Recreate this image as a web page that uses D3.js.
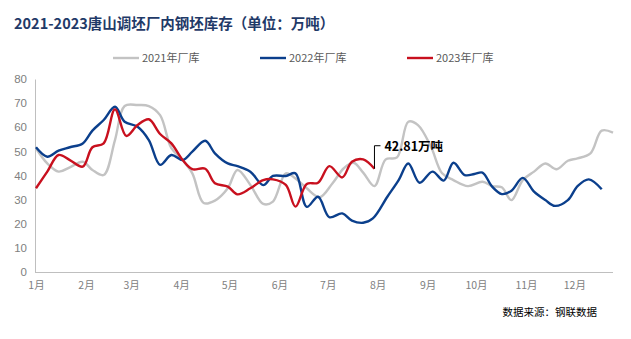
<!DOCTYPE html>
<html><head><meta charset="utf-8">
<script src="https://cdn.jsdelivr.net/npm/d3@7"></script>
<style>body{margin:0;background:#fff}svg{display:block}</style>
</head><body>
<svg id="c" width="631" height="339"></svg>
<script>
const monthLabels = ["1月","2月","3月","4月","5月","6月","7月","8月","9月","10月","11月","12月"];
const monthStartDays = [0,31,59,90,120,151,181,212,243,273,304,334];
const yTicks = [0,10,20,30,40,50,60,70,80];

const days2021 = [0,7,14,21,29,35,42,49,55,63,70,77,84,91,97,104,111,119,125,133,141,147,155,161,168,176,184,191,197,203,210,217,224,231,237,245,252,259,268,277,283,289,295,302,309,316,323,330,336,344,351,358];
const vals2021 = [51.3,45,41.6,43.4,45.7,42.3,40.2,54.7,68.8,69.2,68.8,65,51.3,46.4,40.9,28.6,29.6,34.7,42.3,36.1,28.2,29.2,40.9,38.8,34.7,31,36.8,43,45.3,41.2,35.6,46.7,47.5,62.3,60.9,52,40.9,38.1,35.6,37.4,35.6,35.1,29.8,38.1,41.6,45,42.6,46.1,47.1,49.2,58.6,57.8];

const days2022 = [0,7,14,21,29,35,42,49,55,63,70,77,84,91,97,105,111,119,125,133,141,147,155,161,168,175,182,190,196,203,209,218,225,231,238,246,253,259,266,272,277,283,289,295,302,309,316,322,330,336,343,351];
const vals2022 = [51.7,47.8,50.3,51.7,53.3,58.6,63,68.5,62.3,60.2,54.7,44.4,48.5,46.4,49.9,54.4,49.2,45,43.9,41.6,36,39.8,39.8,40.9,27,31.2,22.7,24.3,21.3,20.4,22.2,31.2,38.1,45,37,41.6,37.9,45.3,40.2,40.6,41.2,35.4,32.3,33.7,39,33.3,29.8,27.4,29.8,35.6,38.4,34.3];

const days2023 = [0,7,14,21,29,35,42,49,56,63,70,77,84,91,97,105,111,119,125,133,141,147,155,161,168,175,182,190,196,203,210];
const vals2023 = [34.7,41.6,48.5,46.4,43.7,51.7,53.3,67.4,56.4,60.9,63.3,57.2,53.3,46.4,42.6,42.8,36.8,35.4,32.2,34.7,38.1,38.4,36.1,27.1,36.5,37,43.9,39.2,45.7,46.7,42.81];

const seriesNames = ["2021年厂库","2022年厂库","2023年厂库"];
const colors = ["#c3c3c3","#0b3f8c","#c8101e"];

const svg = d3.select("#c");
const x = d3.scaleLinear().domain([0,358]).range([36,613]);
const y = d3.scaleLinear().domain([0,80]).range([272,79]);

// title
svg.append("text").attr("x",14).attr("y",29)
  .attr("font-family","'Noto Sans CJK SC',sans-serif").attr("font-weight","bold")
  .attr("font-size",14.5).attr("fill","#1f3a68")
  .text("2021-2023唐山调坯厂内钢坯库存（单位：万吨）");

// axes
const yAxis = d3.axisLeft(y).tickValues(yTicks).tickSize(0).tickPadding(8);
const gy = svg.append("g").attr("transform","translate(35,0)").call(yAxis);
gy.select(".domain").attr("stroke","#bfbfbf");
gy.selectAll("text").attr("font-family","Arial,'Liberation Sans',sans-serif").attr("font-size",11.5).attr("fill","#808080");

const xAxis = d3.axisBottom(x).tickValues(monthStartDays).tickFormat((d,i)=>monthLabels[i]).tickSize(0).tickPadding(10);
const gx = svg.append("g").attr("transform","translate(0,272)").call(xAxis);
gx.select(".domain").attr("stroke","#bfbfbf").attr("d","M35,0.5H613");
gx.selectAll("text").attr("font-family","'Noto Sans CJK SC',sans-serif").attr("font-size",10.5).attr("fill","#808080");

// lines
const line = d3.line().x(d=>x(d[0])).y(d=>y(d[1])).curve(d3.curveCatmullRom.alpha(0.5));
const data = [
  d3.zip(days2021, vals2021),
  d3.zip(days2022, vals2022),
  d3.zip(days2023, vals2023)
];
data.forEach((s,i)=>{
  svg.append("path").datum(s).attr("d",line).attr("fill","none")
    .attr("stroke",colors[i]).attr("stroke-width",2.4).attr("stroke-linejoin","round");
});

// annotation
const last = data[2][data[2].length-1];
const ax = x(last[0]), ay = y(last[1]);
svg.append("path").attr("d",`M${ax},${ay}V${ay-23}H${ax+6}`).attr("fill","none").attr("stroke","#000").attr("stroke-width",1);
svg.append("text").attr("x",ax+10).attr("y",ay-18)
  .attr("font-family","'Noto Sans CJK SC',sans-serif").attr("font-weight","bold")
  .attr("font-size",12.5).attr("fill","#000").text(last[1]+"万吨");

// legend
const lx = [113,260,407];
seriesNames.forEach((n,i)=>{
  svg.append("line").attr("x1",lx[i]).attr("x2",lx[i]+26).attr("y1",58).attr("y2",58)
    .attr("stroke",colors[i]).attr("stroke-width",2.4);
  svg.append("text").attr("x",lx[i]+29).attr("y",62)
    .attr("font-family","'Noto Sans CJK SC',sans-serif").attr("font-size",11).attr("fill","#595959").text(n);
});

// source
svg.append("text").attr("x",597).attr("y",316).attr("text-anchor","end")
  .attr("font-family","'Noto Sans CJK SC',sans-serif").attr("font-size",10.5).attr("fill","#000")
  .text("数据来源：钢联数据");
</script>
</body></html>
